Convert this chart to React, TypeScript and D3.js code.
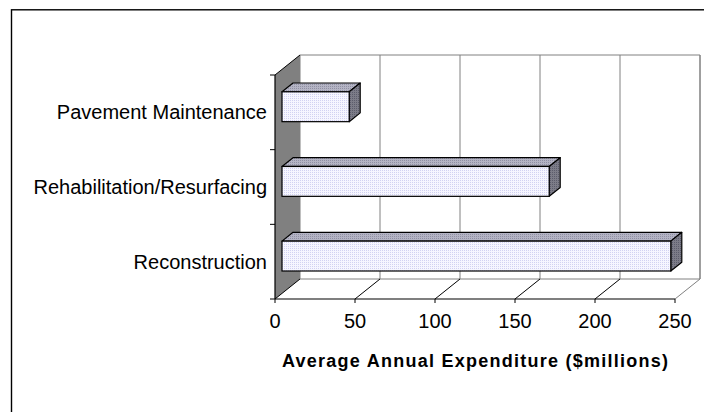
import React from "react";
import * as d3 from "d3";

const categories = ["Pavement Maintenance", "Rehabilitation/Resurfacing", "Reconstruction"];
const values = [42, 167, 243];
const tickValues = [0, 50, 100, 150, 200, 250];
const axisTitle = "Average Annual Expenditure ($millions)";

const W = 704;
const H = 412;
const DX = 25;
const DY = -20;
const BAR_F0 = 0.28;
const BAR_F1 = 0.72;

export default function App() {
  const x = d3.scaleLinear().domain([0, 250]).range([275, 675]);
  const y = d3.scaleBand<string>().domain(categories).range([75, 299]).paddingInner(0.6).paddingOuter(0.3);
  const step = y.step();
  const yTop = 75;
  const yBot = 299;

  const P = (v: number, yy: number, d: number): [number, number] => [x(v) + d * DX, yy + d * DY];
  const pts = (arr: [number, number][]) => arr.map((p) => p.join(",")).join(" ");

  const bandTicks = d3.range(categories.length + 1).map((i) => yTop + i * step);
  const font = "Arial, 'Liberation Sans', sans-serif";

  return (
    <svg width={W} height={H} style={{ position: "absolute", left: 0, top: 0 }} xmlns="http://www.w3.org/2000/svg">
      <defs>
        <pattern id="front" width="2" height="2" patternUnits="userSpaceOnUse">
          <rect width="2" height="2" fill="#f6f6ff" />
          <rect width="1" height="1" fill="#d2d2f2" />
        </pattern>
        <pattern id="topf" width="2" height="2" patternUnits="userSpaceOnUse">
          <rect width="2" height="2" fill="#b4b4c4" />
          <rect width="1" height="1" fill="#9090a4" />
        </pattern>
        <pattern id="sidef" width="2" height="2" patternUnits="userSpaceOnUse">
          <rect width="2" height="2" fill="#7c7c88" />
          <rect width="1" height="1" fill="#5c5c6c" />
        </pattern>
      </defs>
      <rect x={0} y={0} width={W} height={H} fill="#fff" />
      {/* outer frame */}
      <rect x={11.5} y={9.8} width={W + 20} height={H + 20} fill="none" stroke="#000" strokeWidth={1.4} />

      {/* back wall */}
      <polygon points={pts([P(0, yTop, 1), P(250, yTop, 1), P(250, yBot, 1), P(0, yBot, 1)])} fill="#fff" stroke="#808080" strokeWidth={1} />
      {/* gridlines on back wall */}
      {tickValues.slice(1).map((t) => {
        const a = P(t, yTop, 1);
        const b = P(t, yBot, 1);
        return <line key={"g" + t} x1={a[0]} y1={a[1]} x2={b[0]} y2={b[1]} stroke="#808080" strokeWidth={1} />;
      })}
      {/* floor diagonals */}
      {tickValues.slice(1).map((t) => {
        const a = P(t, yBot, 0);
        const b = P(t, yBot, 1);
        return <line key={"f" + t} x1={a[0]} y1={a[1]} x2={b[0]} y2={b[1]} stroke={t === 250 ? "#808080" : "#000"} strokeWidth={1} />;
      })}
      {/* left wall */}
      <polygon points={pts([P(0, yTop, 0), P(0, yTop, 1), P(0, yBot, 1), P(0, yBot, 0)])} fill="#808080" />
      <line x1={P(0, yTop, 0)[0]} y1={P(0, yTop, 0)[1]} x2={P(0, yTop, 1)[0]} y2={P(0, yTop, 1)[1]} stroke="#000" strokeWidth={1} />
      <line x1={P(0, yBot, 0)[0]} y1={P(0, yBot, 0)[1]} x2={P(0, yBot, 1)[0]} y2={P(0, yBot, 1)[1]} stroke="#000" strokeWidth={1} />

      {/* axes */}
      <line x1={x(0)} y1={yTop} x2={x(0)} y2={yBot} stroke="#000" strokeWidth={1.2} />
      <line x1={x(0)} y1={yBot} x2={x(250)} y2={yBot} stroke="#000" strokeWidth={1.2} />
      {bandTicks.map((t, i) => (
        <line key={"bt" + i} x1={x(0) - 5} y1={t} x2={x(0)} y2={t} stroke="#000" strokeWidth={1} />
      ))}
      {tickValues.map((t) => (
        <g key={"vt" + t}>
          <line x1={x(t)} y1={yBot} x2={x(t)} y2={yBot + 4} stroke="#000" strokeWidth={1} />
          <text x={x(t)} y={328} textAnchor="middle" fontFamily={font} fontSize={20} fill="#000">
            {t}
          </text>
        </g>
      ))}

      {/* bars */}
      {categories.map((c, i) => {
        const v = values[i];
        const y0 = y(c)!;
        const y1 = y0 + y.bandwidth();
        const f0 = P(0, y0, BAR_F0);
        const f1 = P(v, y1, BAR_F0);
        const top = [P(0, y0, BAR_F0), P(v, y0, BAR_F0), P(v, y0, BAR_F1), P(0, y0, BAR_F1)] as [number, number][];
        const side = [P(v, y0, BAR_F0), P(v, y0, BAR_F1), P(v, y1, BAR_F1), P(v, y1, BAR_F0)] as [number, number][];
        return (
          <g key={c}>
            <polygon points={pts(top)} fill="url(#topf)" stroke="#000" strokeWidth={1.2} strokeLinejoin="round" />
            <polygon points={pts(side)} fill="url(#sidef)" stroke="#000" strokeWidth={1.2} strokeLinejoin="round" />
            <rect x={f0[0]} y={f0[1]} width={f1[0] - f0[0]} height={f1[1] - f0[1]} fill="url(#front)" stroke="#000" strokeWidth={1.2} />
          </g>
        );
      })}

      {/* category labels */}
      {categories.map((c) => (
        <text key={"l" + c} x={267} y={y(c)! + y.bandwidth() / 2 + 7} textAnchor="end" fontFamily={font} fontSize={20} fill="#000">
          {c}
        </text>
      ))}

      {/* axis title */}
      <text x={475} y={366.5} textAnchor="middle" fontFamily={font} fontSize={18} fontWeight="bold" textLength={386} lengthAdjust="spacing" fill="#000">
        {axisTitle}
      </text>
    </svg>
  );
}
